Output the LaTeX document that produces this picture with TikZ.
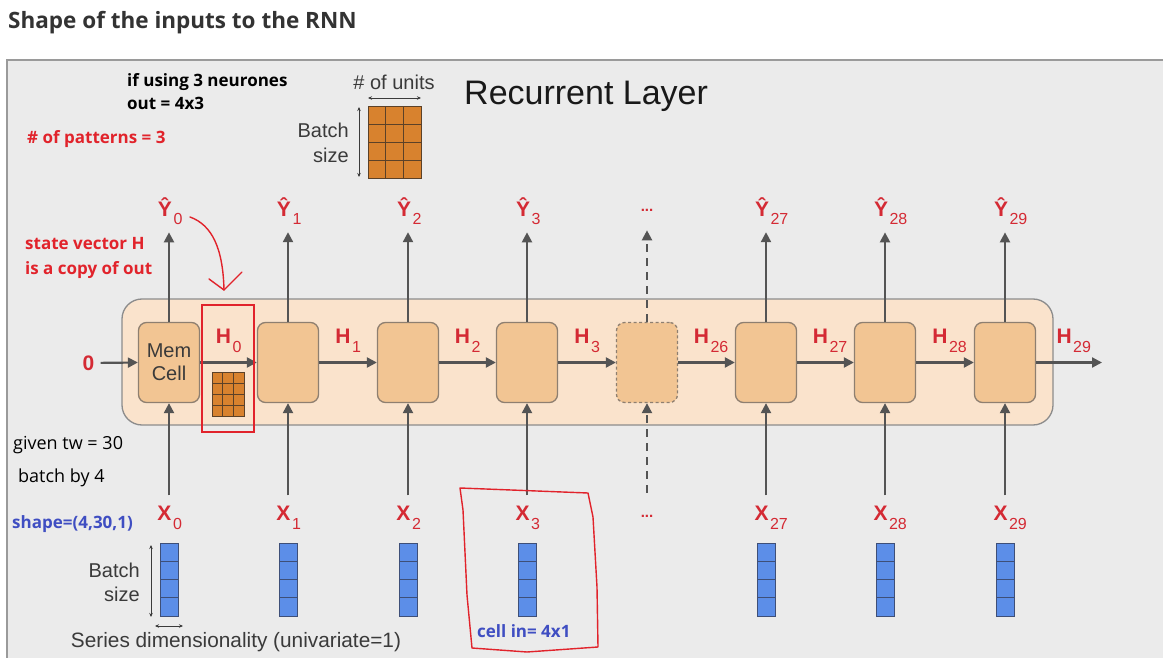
\documentclass[tikz,border=0pt]{standalone}
\usepackage{fontspec}
\setmainfont{Liberation Sans}
\newfontfamily\notefont{Open Sans}
\usetikzlibrary{arrows.meta,positioning}

\definecolor{panelgray}{HTML}{EBEBEB}
\definecolor{panelline}{HTML}{9A9A9A}
\definecolor{titlegray}{HTML}{333333}
\definecolor{textgray}{HTML}{3A3A3A}
\definecolor{layerfill}{HTML}{FAE3CC}
\definecolor{layerline}{HTML}{8C8C8C}
\definecolor{cellfill}{HTML}{F2C593}
\definecolor{cellline}{HTML}{8E7F70}
\definecolor{arrowgray}{HTML}{545454}
\definecolor{labred}{HTML}{D42A34}
\definecolor{penred}{HTML}{E1232B}
\definecolor{noteblue}{HTML}{3F4EC2}
\definecolor{gridorange}{HTML}{D8822E}
\definecolor{gridline}{HTML}{5B4128}
\definecolor{colblue}{HTML}{5C8EE8}
\definecolor{colline}{HTML}{3E4F78}

\newcommand{\subscr}[1]{\hspace{1.5pt}\raisebox{-9pt}{\fontsize{16}{16}\selectfont\mdseries #1}}

\begin{document}
\begin{tikzpicture}[
    x=1pt, y=-1pt,
    every node/.style={font=\fontsize{20}{23}\selectfont, text=textgray},
    cell/.style={draw=cellline, fill=cellfill, rounded corners=8pt, line width=1.3pt,
        minimum width=61pt, minimum height=80pt, inner sep=0pt, align=center},
    flow/.style={draw=arrowgray, line width=2.2pt, -{Triangle[length=10pt,width=10pt]}},
    steplab/.style={text=labred, font=\fontsize{21}{21}\selectfont\bfseries, inner sep=0pt},
    outlab/.style={steplab, anchor=base, inner ysep=7pt},
    inlab/.style={steplab, anchor=base, inner ysep=10pt},
    hlab/.style={steplab, above=9pt, xshift=-5pt},
    note/.style={font=\notefont\bfseries\fontsize{17}{19}\selectfont, anchor=base west, inner sep=0pt},
    plain/.style={font=\notefont\fontsize{18}{20}\selectfont, anchor=base west, inner sep=0pt, text=black},
    dim/.style={draw=textgray, line width=0.8pt, {Stealth[length=4pt,width=3.5pt]}-{Stealth[length=4pt,width=3.5pt]}},
    pen/.style={draw=penred, line width=1.4pt, line cap=round, line join=round},
    gridcell/.style={fill=gridorange, draw=gridline, line width=0.8pt},
    colcell/.style={fill=colblue, draw=colline, line width=0.9pt}
]
\useasboundingbox (0,0) rectangle (1163,658);

% Page and panel
\fill[white] (0,0) rectangle (1163,658);
\fill[panelgray] (7,60) rectangle (1163,658);
\draw[panelline, line width=1.2pt] (7,658) -- (7,60) -- (1163,60);
\node[anchor=base west, inner sep=0pt, text=titlegray,
    font=\notefont\bfseries\fontsize{22.5}{22.5}\selectfont] (title) at (8,29) {Shape of the inputs to the RNN};

% Layer frame
\draw[draw=layerline, fill=layerfill, rounded corners=20pt, line width=1.3pt] (122,299) rectangle (1053,425);
\node[anchor=base west, inner sep=0pt, text=black!90, font=\fontsize{34}{34}\selectfont] (layer) at (464,105) {Recurrent Layer};

% Cells
\node[cell] (c0) at (169,362.5) {Mem\\Cell};
\foreach \i in {1,2,3,5,6,7} {
    \node[cell] (c\i) at ({round(169+119.4*\i)},362.5) {};
}
\node[cell, dash pattern=on 3pt off 2.5pt] (c4) at ({round(169+119.4*4)},362.5) {};

% State arrows
\node[steplab, inner sep=6pt] (zero) at (88.5,363) {0};
\draw[flow] (zero) -- (c0.west);
\foreach \a/\b/\s in {0/1/0, 1/2/1, 2/3/2, 3/4/3, 4/5/26, 5/6/27, 6/7/28} {
    \draw[flow] (c\a.east) -- node[hlab] (h\s) {H\rlap{\subscr{\s}}} (c\b.west);
}
\coordinate (hout) at (1102,362.5);
\draw[flow] (c7.east) -- node[hlab] (h29) {H\rlap{\subscr{29}}} (hout);

% Outputs
\foreach \i/\s in {0/0, 1/1, 2/2, 3/3, 5/27, 6/28, 7/29} {
    \node[outlab] (y\i) at ({round(169+119.4*\i)-4},216) {\^{Y}\rlap{\subscr{\s}}};
    \draw[flow] (c\i.north) -- (c\i.north |- y\i.south);
}
\node[steplab, inner ysep=19pt, font=\fontsize{15}{15}\selectfont\bfseries] (y4) at ({round(169+119.4*4)},210) {...};
\draw[flow, dash pattern=on 8pt off 6pt] (c4.north) -- (c4.north |- y4.south);

% Inputs
\foreach \i/\s in {0/0, 1/1, 2/2, 3/3, 5/27, 6/28, 7/29} {
    \node[inlab] (x\i) at ({round(169+119.4*\i)-4.5},520) {X\rlap{\subscr{\s}}};
    \draw[flow] (c\i.south |- x\i.north) -- (c\i.south);
    \foreach \r in {0,...,3} {
        \draw[colcell] ({round(169+119.4*\i)-9},{543+18.25*\r}) rectangle ++(18,18.25);
    }
}
\node[steplab, inner ysep=22pt, font=\fontsize{15}{15}\selectfont\bfseries] (x4) at ({round(169+119.4*4)},516) {...};
\draw[flow, dash pattern=on 8pt off 6pt] (c4.south |- x4.north) -- (c4.south);

% Output shape grid
\foreach \c in {0,1,2} {
    \foreach \r in {0,...,3} {
        \draw[gridcell] ({368+\c*53/3},{106+\r*18}) rectangle ++(53/3,18);
    }
}
\draw[dim] (368,98) -- (421,98);
\draw[dim] (359,107) -- (359,177);
\node (units) at (394,82) {\# of units};
\node[anchor=east, align=right, inner sep=0pt] (bsize) at (349,143) {Batch\\[2pt]size};

% State copy grid
\foreach \c in {0,1,2} {
    \foreach \r in {0,...,3} {
        \draw[gridcell, line width=0.6pt] ({212+\c*32/3},{372+\r*11}) rectangle ++(32/3,11);
    }
}
\draw[penred, line width=1.6pt] (202,305) rectangle (254,432);

% Input shape labels
\draw[dim] (151,545) -- (151,617);
\draw[dim] (155,626) -- (183,626);
\node[anchor=east, align=right, inner sep=0pt] (bin) at (140,582) {Batch\\[1pt]size};
\node[font=\fontsize{20.8}{23}\selectfont] (series) at (236,642) {Series dimensionality (univariate=1)};

% Notes
\node[note, text=black] (neur) at (127,87) {if using 3 neurones};
\node[note, text=black] (outsz) at (127,110) {out = 4x3};
\node[note, text=penred] (pat) at (27,144) {\# of patterns = 3};
\node[note, text=penred] (state) at (25,250) {state vector H};
\node[note, text=penred] (copy) at (25,274) {is a copy of out};
\node[plain] (tw) at (13,449) {given tw = 30};
\node[plain] (batch) at (18,482) {batch by 4};
\node[note, text=noteblue] (shape) at (12,528) {shape=(4,30,1)};
\node[note, text=noteblue] (cellin) at (477,637) {cell in= 4x1};

% Pen marks
\draw[pen] (190,217) .. controls (212,225) and (223,248) .. (224,290);
\draw[pen] (209,279) -- (224,290) -- (242,272);
\draw[pen] (460,488) -- (588,493) -- (593,517) -- (597,587) -- (598,647)
    -- (527,652) -- (472,648) -- (467,595) -- (463,510) -- cycle;

\end{tikzpicture}
\end{document}
